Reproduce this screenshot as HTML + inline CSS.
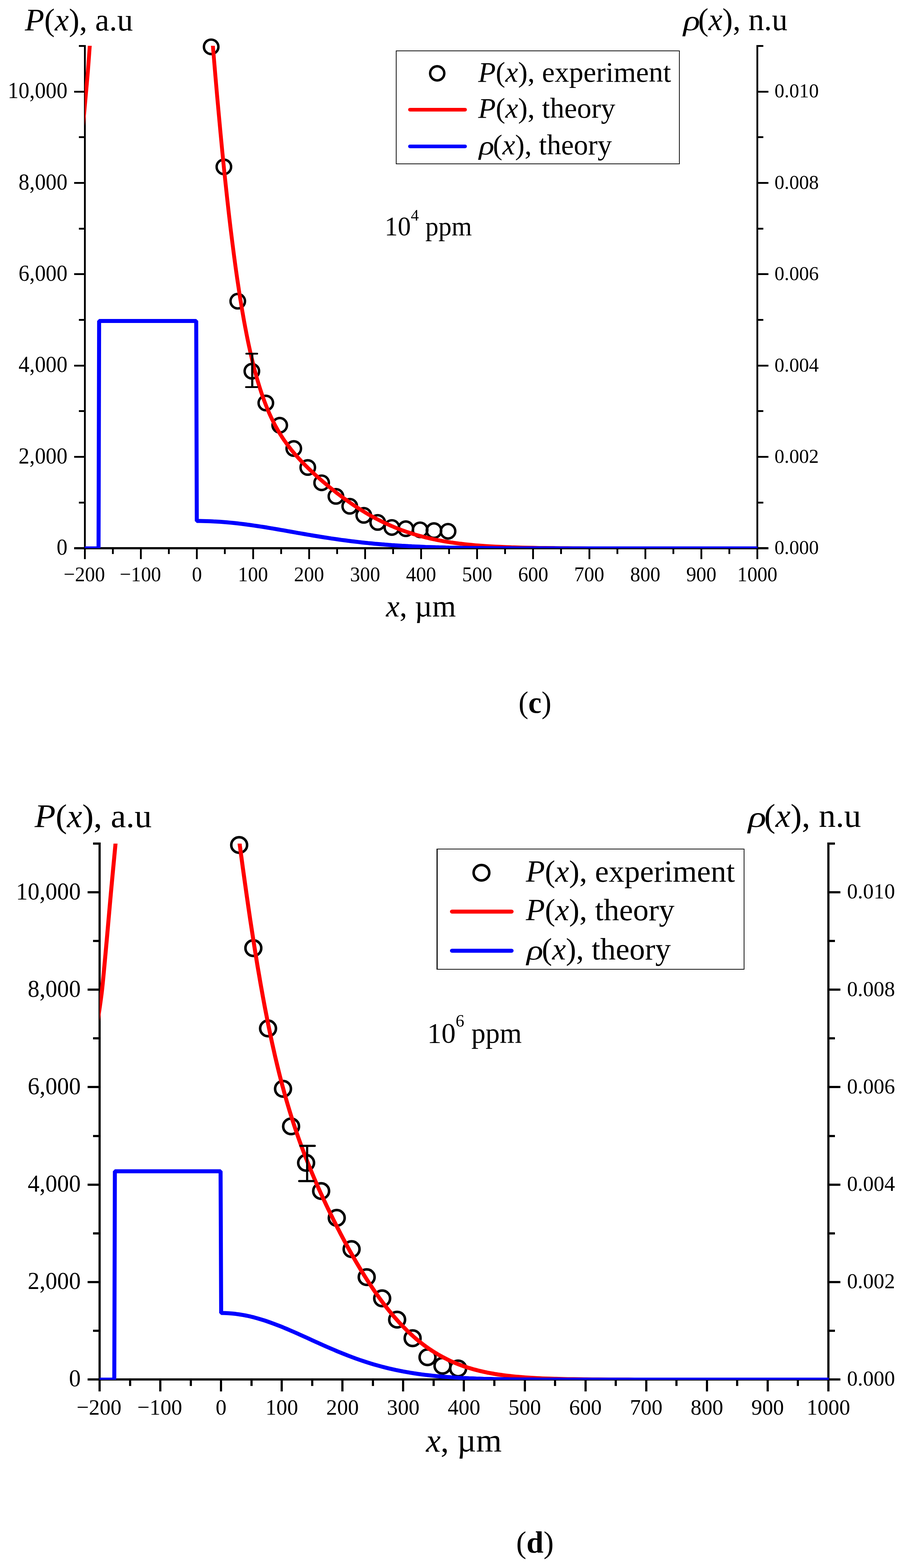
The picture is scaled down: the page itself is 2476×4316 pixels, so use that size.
<!DOCTYPE html>
<html lang="en">
<head>
<meta charset="utf-8">
<title>P(x) and rho(x) profiles, panels (c) and (d)</title>
<style>
html,body{margin:0;padding:0;background:#fff}
body{width:2476px;height:4316px;overflow:hidden}
svg{display:block}
text{white-space:pre}
</style>
</head>
<body>
<svg width="2476" height="4316" viewBox="0 0 2476 4316">
<rect width="2476" height="4316" fill="#fff"/>
<g id="chart-c">
<clipPath id="clip-chart-c"><rect x="233" y="126" width="1851" height="1383"/></clipPath>
<g fill="none" stroke="#000" shape-rendering="crispEdges">
<path d="M233.5 124V1512M2083.5 124V1512" stroke-width="5" vector-effect="non-scaling-stroke"/>
<path d="M233.5 1509H2083.5" stroke-width="6" vector-effect="non-scaling-stroke"/>
<path d="M217.1 1383.32H233.5M2083.5 1383.32H2099.9M203.5 1257.64H233.5M2083.5 1257.64H2113.5M217.1 1131.95H233.5M2083.5 1131.95H2099.9M203.5 1006.27H233.5M2083.5 1006.27H2113.5M217.1 880.59H233.5M2083.5 880.59H2099.9M203.5 754.91H233.5M2083.5 754.91H2113.5M217.1 629.23H233.5M2083.5 629.23H2099.9M203.5 503.55H233.5M2083.5 503.55H2113.5M217.1 377.86H233.5M2083.5 377.86H2099.9M203.5 252.18H233.5M2083.5 252.18H2113.5M217.1 126.5H233.5M2083.5 126.5H2099.9M233.5 1509V1539M310.58 1509V1525.4M387.67 1509V1539M464.75 1509V1525.4M541.83 1509V1539M618.92 1509V1525.4M696 1509V1539M773.08 1509V1525.4M850.17 1509V1539M927.25 1509V1525.4M1004.33 1509V1539M1081.42 1509V1525.4M1158.5 1509V1539M1235.58 1509V1525.4M1312.67 1509V1539M1389.75 1509V1525.4M1466.83 1509V1539M1543.92 1509V1525.4M1621 1509V1539M1698.08 1509V1525.4M1775.17 1509V1539M1852.25 1509V1525.4M1929.33 1509V1539M2006.42 1509V1525.4M2083.5 1509V1539" stroke-width="5" vector-effect="non-scaling-stroke"/>
<path d="M203.5 1509H233.5M2083.5 1509H2113.5" stroke-width="6" vector-effect="non-scaling-stroke"/>
</g>
<g font-family="'Liberation Serif', serif" fill="#000">
<text transform="translate(185.6 1527.2) scale(0.98 1.03)" font-size="61" text-anchor="end">0</text>
<text transform="translate(185.6 1275.84) scale(0.98 1.03)" font-size="61" text-anchor="end">2,000</text>
<text transform="translate(185.6 1024.47) scale(0.98 1.03)" font-size="61" text-anchor="end">4,000</text>
<text transform="translate(185.6 773.11) scale(0.98 1.03)" font-size="61" text-anchor="end">6,000</text>
<text transform="translate(185.6 521.75) scale(0.98 1.03)" font-size="61" text-anchor="end">8,000</text>
<text transform="translate(185.6 270.38) scale(0.98 1.03)" font-size="61" text-anchor="end">10,000</text>
<text transform="translate(2130.8 1525.3) scale(0.984 1.013)" font-size="55">0.000</text>
<text transform="translate(2130.8 1273.94) scale(0.984 1.013)" font-size="55">0.002</text>
<text transform="translate(2130.8 1022.57) scale(0.984 1.013)" font-size="55">0.004</text>
<text transform="translate(2130.8 771.21) scale(0.984 1.013)" font-size="55">0.006</text>
<text transform="translate(2130.8 519.85) scale(0.984 1.013)" font-size="55">0.008</text>
<text transform="translate(2130.8 268.48) scale(0.984 1.013)" font-size="55">0.010</text>
<text transform="translate(232 1600.2) scale(0.975 1.02)" font-size="56.6" text-anchor="middle">−200</text>
<text transform="translate(386.17 1600.2) scale(0.975 1.02)" font-size="56.6" text-anchor="middle">−100</text>
<text transform="translate(541.83 1600.2) scale(0.975 1.02)" font-size="56.6" text-anchor="middle">0</text>
<text transform="translate(696 1600.2) scale(0.975 1.02)" font-size="56.6" text-anchor="middle">100</text>
<text transform="translate(850.17 1600.2) scale(0.975 1.02)" font-size="56.6" text-anchor="middle">200</text>
<text transform="translate(1004.33 1600.2) scale(0.975 1.02)" font-size="56.6" text-anchor="middle">300</text>
<text transform="translate(1158.5 1600.2) scale(0.975 1.02)" font-size="56.6" text-anchor="middle">400</text>
<text transform="translate(1312.67 1600.2) scale(0.975 1.02)" font-size="56.6" text-anchor="middle">500</text>
<text transform="translate(1466.83 1600.2) scale(0.975 1.02)" font-size="56.6" text-anchor="middle">600</text>
<text transform="translate(1621 1600.2) scale(0.975 1.02)" font-size="56.6" text-anchor="middle">700</text>
<text transform="translate(1775.17 1600.2) scale(0.975 1.02)" font-size="56.6" text-anchor="middle">800</text>
<text transform="translate(1929.33 1600.2) scale(0.975 1.02)" font-size="56.6" text-anchor="middle">900</text>
<text transform="translate(2083.5 1600.2) scale(0.975 1.02)" font-size="56.6" text-anchor="middle">1000</text>
<text transform="translate(68.6 84.3) scale(1.012 1)" font-size="86"><tspan font-style="italic">P</tspan>(<tspan font-style="italic">x</tspan>), a.u</text>
<text transform="translate(1879.7 83) scale(1.12 0.91)" font-size="86" font-style="italic">ρ</text>
<text x="1920.5" y="83" font-size="86">(<tspan font-style="italic">x</tspan>), n.u</text>
<text transform="translate(1062 1697.3) scale(0.985 1)" font-size="85"><tspan font-style="italic">x</tspan>, µm</text>
<text transform="translate(1058.2 648.3) scale(0.98 1)" font-size="73.5">10<tspan font-size="44.84" dy="-41" dx="0">4</tspan><tspan dy="41" dx="0"> ppm</tspan></text>
</g>
<g fill="none" stroke="#000" stroke-width="6.7">
<circle cx="580.9" cy="128.9" r="19.9" vector-effect="non-scaling-stroke"/>
<circle cx="615.9" cy="459.3" r="19.9" vector-effect="non-scaling-stroke"/>
<circle cx="654.1" cy="829.1" r="19.9" vector-effect="non-scaling-stroke"/>
<circle cx="692.9" cy="1021.8" r="19.9" vector-effect="non-scaling-stroke"/>
<circle cx="731.3" cy="1109.3" r="19.9" vector-effect="non-scaling-stroke"/>
<circle cx="769.5" cy="1170.6" r="19.9" vector-effect="non-scaling-stroke"/>
<circle cx="808.2" cy="1234.6" r="19.9" vector-effect="non-scaling-stroke"/>
<circle cx="846.7" cy="1286.8" r="19.9" vector-effect="non-scaling-stroke"/>
<circle cx="884.9" cy="1328.9" r="19.9" vector-effect="non-scaling-stroke"/>
<circle cx="924.2" cy="1366.3" r="19.9" vector-effect="non-scaling-stroke"/>
<circle cx="962.2" cy="1393.5" r="19.9" vector-effect="non-scaling-stroke"/>
<circle cx="1000.8" cy="1418.5" r="19.9" vector-effect="non-scaling-stroke"/>
<circle cx="1039.1" cy="1438" r="19.9" vector-effect="non-scaling-stroke"/>
<circle cx="1078.1" cy="1451.9" r="19.9" vector-effect="non-scaling-stroke"/>
<circle cx="1116.4" cy="1455.3" r="19.9" vector-effect="non-scaling-stroke"/>
<circle cx="1155.8" cy="1458.4" r="19.9" vector-effect="non-scaling-stroke"/>
<circle cx="1193.9" cy="1460.5" r="19.9" vector-effect="non-scaling-stroke"/>
<circle cx="1232.6" cy="1462.4" r="19.9" vector-effect="non-scaling-stroke"/>
</g>
<g clip-path="url(#clip-chart-c)" fill="none">
<path d="M225 372C225.7 365.8 227.7 346.1 228.9 335.2C230 324.2 229.9 328.4 232 306.4C234 284.4 238.7 233.1 241.2 203.2C243.7 173.3 245 153.2 246.9 126.9C248.8 100.6 251.8 58.8 252.8 45.2" stroke="#f00" stroke-width="10.6" stroke-linejoin="round" vector-effect="non-scaling-stroke"/>
<path d="M569.6 -76.5C570.4 -66.5 572.7 -36.4 574.2 -16.6C575.8 3.1 577.3 22.7 578.8 42.1C580.4 61.5 581.9 80.7 583.5 99.6C585 118.6 586.5 137.3 588.1 155.8C589.6 174.3 591.2 192.5 592.7 210.5C594.2 228.5 595.8 246.2 597.3 263.7C598.9 281.1 600.4 298.3 602 315.2C603.5 332.1 605 348.8 606.6 365.2C608.1 381.5 609.7 397.6 611.2 413.4C612.8 429.2 614.3 444.7 615.8 459.9C617.4 475.1 618.9 490 620.5 504.6C622 519.2 623.5 533.6 625.1 547.6C626.6 561.6 628.2 575.4 629.7 588.8C631.2 602.2 632.8 615.4 634.3 628.2C635.9 641.1 637.4 653.6 639 665.9C640.5 678.2 642 690.1 643.6 701.8C645.1 713.5 646.7 724.9 648.2 736.1C649.8 747.2 651.3 758.1 652.8 768.6C654.4 779.2 655.9 789.5 657.5 799.6C659 809.6 660.5 819.4 662.1 828.9C663.6 838.4 665.2 847.7 666.7 856.7C668.2 865.7 669.8 874.5 671.3 883C672.9 891.5 674.4 899.8 676 907.8C677.5 915.9 679 923.7 680.6 931.3C682.1 938.9 683.7 946.3 685.2 953.4C686.8 960.6 688.3 967.6 689.8 974.3C691.4 981.1 692.9 987.6 694.5 994C696 1000.4 697.5 1006.5 699.1 1012.5C700.6 1018.5 702.2 1024.3 703.7 1030C705.2 1035.6 706.8 1041.1 708.3 1046.4C709.9 1051.7 711.4 1056.8 713 1061.8C714.5 1066.8 716 1071.6 717.6 1076.3C719.1 1081.1 720.7 1085.6 722.2 1090C723.8 1094.5 725.3 1098.7 726.8 1102.9C728.4 1107.1 729.9 1111.1 731.5 1115.1C733 1119 734.5 1122.8 736.1 1126.5C737.6 1130.2 739.2 1133.8 740.7 1137.3C742.2 1140.8 743.8 1144.2 745.3 1147.5C746.9 1150.8 748.4 1154 750 1157.2C751.5 1160.3 753 1163.3 754.6 1166.3C756.1 1169.3 757.7 1172.2 759.2 1175C760.8 1177.8 762.3 1180.5 763.8 1183.2C765.4 1185.9 766.9 1188.5 768.5 1191.1C770 1193.6 771.5 1196.1 773.1 1198.5C774.6 1201 776.2 1203.3 777.7 1205.7C779.2 1208 780.8 1210.3 782.3 1212.5C783.9 1214.7 785.4 1216.9 787 1219.1C788.5 1221.2 790 1223.3 791.6 1225.4C793.1 1227.4 794.7 1229.5 796.2 1231.5C797.8 1233.4 799.3 1235.4 800.8 1237.3C802.4 1239.2 803.9 1241.1 805.5 1243C807 1244.9 808.5 1246.7 810.1 1248.5C811.6 1250.3 813.2 1252.1 814.7 1253.8C816.2 1255.6 817.8 1257.3 819.3 1259C820.9 1260.8 822.4 1262.4 824 1264.1C825.5 1265.8 827 1267.4 828.6 1269.1C830.1 1270.7 831.7 1272.3 833.2 1273.9C834.8 1275.5 836.3 1277.1 837.8 1278.6C839.4 1280.2 840.9 1281.7 842.5 1283.3C844 1284.8 845.5 1286.3 847.1 1287.8C848.6 1289.4 849.4 1290.1 851.7 1292.3C854 1294.5 857.9 1298.2 861 1301.1C864 1304 867.1 1306.8 870.2 1309.6C873.3 1312.4 876.4 1315.1 879.5 1317.8C882.5 1320.6 885.6 1323.2 888.7 1325.9C891.8 1328.5 894.9 1331.2 898 1333.7C901 1336.3 904.1 1338.9 907.2 1341.4C910.3 1343.9 913.4 1346.4 916.5 1348.9C919.5 1351.3 922.6 1353.8 925.7 1356.2C928.8 1358.6 931.9 1360.9 935 1363.3C938 1365.6 941.1 1367.9 944.2 1370.2C947.3 1372.4 950.4 1374.7 953.5 1376.9C956.5 1379.1 959.6 1381.3 962.7 1383.4C965.8 1385.6 968.9 1387.7 972 1389.8C975 1391.9 978.1 1393.9 981.2 1395.9C984.3 1397.9 987.4 1399.9 990.5 1401.9C993.5 1403.8 996.6 1405.7 999.7 1407.6C1002.8 1409.5 1005.9 1411.3 1009 1413.2C1012 1415 1015.1 1416.8 1018.2 1418.5C1021.3 1420.3 1024.4 1422 1027.5 1423.7C1030.5 1425.3 1033.6 1427 1036.7 1428.6C1039.8 1430.2 1042.9 1431.8 1046 1433.3C1049 1434.9 1052.1 1436.4 1055.2 1437.9C1058.3 1439.4 1061.4 1440.8 1064.5 1442.2C1067.5 1443.6 1070.6 1445 1073.7 1446.4C1076.8 1447.7 1079.9 1449.1 1083 1450.3C1086 1451.6 1089.1 1452.9 1092.2 1454.1C1095.3 1455.3 1098.4 1456.5 1101.5 1457.7C1104.5 1458.9 1107.6 1460 1110.7 1461.1C1113.8 1462.2 1116.9 1463.3 1120 1464.4C1123 1465.4 1126.1 1466.4 1129.2 1467.4C1132.3 1468.4 1135.4 1469.4 1138.5 1470.3C1141.5 1471.3 1144.6 1472.2 1147.7 1473.1C1150.8 1474 1153.9 1474.8 1157 1475.6C1160 1476.5 1163.1 1477.3 1166.2 1478.1C1169.3 1478.9 1172.4 1479.6 1175.5 1480.4C1178.5 1481.1 1181.6 1481.8 1184.7 1482.5C1187.8 1483.2 1190.9 1483.9 1194 1484.6C1197 1485.2 1200.1 1485.8 1203.2 1486.5C1206.3 1487.1 1209.4 1487.7 1212.5 1488.2C1215.5 1488.8 1218.6 1489.4 1221.7 1489.9C1224.8 1490.4 1227.9 1490.9 1231 1491.4C1234 1491.9 1237.1 1492.4 1240.2 1492.9C1243.3 1493.3 1246.4 1493.8 1249.5 1494.2C1252.5 1494.7 1255.6 1495.1 1258.7 1495.5C1261.8 1495.9 1264.9 1496.3 1268 1496.6C1271 1497 1274.1 1497.4 1277.2 1497.7C1280.3 1498.1 1283.4 1498.4 1286.5 1498.7C1289.5 1499 1292.6 1499.3 1295.7 1499.6C1298.8 1499.9 1301.9 1500.2 1305 1500.5C1308 1500.8 1307.5 1500.8 1314.2 1501.3C1320.9 1501.8 1334.8 1502.8 1345 1503.5C1355.3 1504.1 1365.6 1504.7 1375.9 1505.1C1386.2 1505.6 1396.4 1506 1406.7 1506.4C1417 1506.7 1427.3 1507 1437.5 1507.3C1447.8 1507.5 1458.1 1507.7 1468.4 1507.9C1478.7 1508.1 1488.9 1508.3 1499.2 1508.4C1509.5 1508.5 1519.8 1508.6 1530 1508.7C1540.3 1508.8 1550.6 1508.9 1560.9 1508.9C1571.2 1509 1581.4 1509.1 1591.7 1509.1C1602 1509.1 1612.3 1509.2 1622.5 1509.2C1632.8 1509.2 1643.1 1509.3 1653.4 1509.3C1663.7 1509.3 1673.9 1509.3 1684.2 1509.3C1694.5 1509.3 1704.8 1509.3 1715 1509.3C1725.3 1509.4 1735.6 1509.4 1745.9 1509.4C1756.2 1509.4 1766.4 1509.4 1776.7 1509.4C1787 1509.4 1797.3 1509.4 1807.5 1509.4C1817.8 1509.4 1828.1 1509.4 1838.4 1509.4C1848.7 1509.4 1858.9 1509.4 1869.2 1509.4C1879.5 1509.4 1889.8 1509.4 1900 1509.4C1910.3 1509.4 1920.6 1509.4 1930.9 1509.4C1941.2 1509.4 1951.4 1509.4 1961.7 1509.4C1972 1509.4 1982.3 1509.4 1992.5 1509.4C2002.8 1509.4 2013.1 1509.4 2023.4 1509.4C2033.7 1509.4 2043.9 1509.4 2054.2 1509.4C2064.5 1509.4 2079.9 1509.4 2085 1509.4" stroke="#f00" stroke-width="10.6" stroke-linejoin="round" vector-effect="non-scaling-stroke"/>
<path d="M218.1 1509.4L271.1 1509.4L272.7 883.5L539.8 883.5L541.4 1434L550.6 1434L559.9 1434.2L569.1 1434.4L578.4 1434.7L587.6 1435.2L596.9 1435.7L606.1 1436.3L615.4 1437L624.6 1437.7L633.9 1438.6L643.1 1439.5L652.4 1440.5L661.6 1441.6L670.9 1442.8L680.1 1444L689.4 1445.2L698.6 1446.6L707.9 1448L717.1 1449.4L726.4 1450.8L735.6 1452.3L744.9 1453.9L754.1 1455.4L763.4 1457L772.6 1458.6L781.9 1460.2L791.1 1461.9L800.4 1463.5L809.6 1465.1L818.9 1466.8L828.1 1468.4L837.4 1470L846.6 1471.6L855.9 1473.2L865.1 1474.7L874.4 1476.2L883.6 1477.7L892.9 1479.2L902.1 1480.6L911.4 1482.1L920.6 1483.4L929.9 1484.8L939.1 1486.1L948.4 1487.3L957.6 1488.5L966.9 1489.7L976.1 1490.8L985.4 1491.9L994.6 1493L1003.9 1494L1013.1 1494.9L1022.4 1495.8L1031.6 1496.7L1040.9 1497.5L1050.1 1498.3L1059.4 1499.1L1068.6 1499.8L1077.9 1500.5L1087.1 1501.1L1096.4 1501.7L1105.6 1502.3L1114.9 1502.8L1124.1 1503.3L1133.4 1503.8L1142.6 1504.2L1151.9 1504.6L1161.1 1505L1170.4 1505.4L1179.6 1505.7L1188.9 1506L1198.1 1506.3L1207.4 1506.6L1216.6 1506.8L1225.9 1507.1L1235.1 1507.3L1244.4 1507.5L1253.6 1507.6L1262.9 1507.8L1272.1 1508L1281.4 1508.1L1290.6 1508.2L1299.9 1508.3L1309.1 1508.4L1318.4 1508.5L1327.6 1508.6L1336.9 1508.7L1346.1 1508.8L1355.4 1508.8L1364.6 1508.9L1373.9 1509L1383.1 1509L1392.4 1509.1L1401.6 1509.1L1410.9 1509.1L1420.1 1509.2L1429.4 1509.2L1438.6 1509.2L1447.9 1509.2L1457.1 1509.3L1466.4 1509.3L1475.6 1509.3L1484.9 1509.3L1494.1 1509.3L1503.4 1509.3L1512.6 1509.3L1521.9 1509.3L1531.1 1509.3L1540.4 1509.4L1549.6 1509.4L1558.9 1509.4L1568.1 1509.4L1577.4 1509.4L1586.6 1509.4L1595.9 1509.4L1605.1 1509.4L1614.4 1509.4L1623.6 1509.4L1632.9 1509.4L1642.1 1509.4L1651.4 1509.4L1660.6 1509.4L1669.9 1509.4L1679.1 1509.4L1688.4 1509.4L1697.6 1509.4L1706.9 1509.4L1716.1 1509.4L1725.4 1509.4L1734.6 1509.4L1743.9 1509.4L1753.1 1509.4L1762.4 1509.4L1771.6 1509.4L1780.9 1509.4L1790.1 1509.4L1799.4 1509.4L1808.6 1509.4L1817.9 1509.4L1827.1 1509.4L1836.4 1509.4L1845.6 1509.4L1854.9 1509.4L1864.1 1509.4L1873.4 1509.4L1882.6 1509.4L1891.9 1509.4L1901.1 1509.4L1910.4 1509.4L1919.6 1509.4L1928.9 1509.4L1938.1 1509.4L1947.4 1509.4L1956.6 1509.4L1965.9 1509.4L1975.1 1509.4L1984.4 1509.4L1993.6 1509.4L2002.9 1509.4L2012.1 1509.4L2021.4 1509.4L2030.6 1509.4L2039.9 1509.4L2049.1 1509.4L2058.4 1509.4L2067.6 1509.4L2076.9 1509.4L2086.1 1509.4L2095.4 1509.4" stroke="#00f" stroke-width="11" stroke-linejoin="bevel" vector-effect="non-scaling-stroke"/>
</g>
<g fill="none" stroke="#000">
<path d="M694 973.6V1065.5" stroke-width="6" vector-effect="non-scaling-stroke"/>
<path d="M677.5 973.6H707.6M676.7 1065.5H707.4" stroke-width="5" stroke-linecap="round" vector-effect="non-scaling-stroke"/>
</g>
<rect x="1090" y="140" width="779" height="311" fill="#fff" stroke="#000" stroke-width="2" shape-rendering="crispEdges" vector-effect="non-scaling-stroke"/>
<circle cx="1202.8" cy="201.8" r="19.5" fill="none" stroke="#000" stroke-width="6.7" vector-effect="non-scaling-stroke"/>
<path d="M1127.9 301.9H1279.4" stroke="#f00" stroke-width="10" stroke-linecap="round" vector-effect="non-scaling-stroke"/>
<path d="M1127.9 402.9H1279.4" stroke="#00f" stroke-width="10" stroke-linecap="round" vector-effect="non-scaling-stroke"/>
<g font-family="'Liberation Serif', serif" fill="#000">
<text transform="translate(1315.6 224.5) scale(1.005 1)" font-size="78.6"><tspan font-style="italic">P</tspan>(<tspan font-style="italic">x</tspan>), experiment</text>
<text transform="translate(1315.6 324.1) scale(1.005 1)" font-size="78.6"><tspan font-style="italic">P</tspan>(<tspan font-style="italic">x</tspan>), theory</text>
<text transform="translate(1317.4 425.2) scale(1.12 0.91)" font-size="78.6" font-style="italic">ρ</text>
<text x="1356" y="425.2" font-size="78.6">(<tspan font-style="italic">x</tspan>), theory</text>
</g>
</g>
<g id="chart-d" transform="translate(20.936 2187.036) scale(1.083784 1.066908)">
<clipPath id="clip-chart-d"><rect x="233.5" y="126.5" width="1850.92" height="1383.44"/></clipPath>
<g fill="none" stroke="#000" shape-rendering="crispEdges">
<path d="M233.5 123.69V1511.81M2083.5 123.69V1511.81" stroke-width="6" vector-effect="non-scaling-stroke"/>
<path d="M233.5 1509H2083.5" stroke-width="6" vector-effect="non-scaling-stroke"/>
<path d="M217.1 1383.32H233.5M2083.5 1383.32H2099.9M203.5 1257.64H233.5M2083.5 1257.64H2113.5M217.1 1131.95H233.5M2083.5 1131.95H2099.9M203.5 1006.27H233.5M2083.5 1006.27H2113.5M217.1 880.59H233.5M2083.5 880.59H2099.9M203.5 754.91H233.5M2083.5 754.91H2113.5M217.1 629.23H233.5M2083.5 629.23H2099.9M203.5 503.55H233.5M2083.5 503.55H2113.5M217.1 377.86H233.5M2083.5 377.86H2099.9M203.5 252.18H233.5M2083.5 252.18H2113.5M217.1 126.5H233.5M2083.5 126.5H2099.9M233.5 1509V1539.47M310.58 1509V1525.66M387.67 1509V1539.47M464.75 1509V1525.66M541.83 1509V1539.47M618.92 1509V1525.66M696 1509V1539.47M773.08 1509V1525.66M850.17 1509V1539.47M927.25 1509V1525.66M1004.33 1509V1539.47M1081.42 1509V1525.66M1158.5 1509V1539.47M1235.58 1509V1525.66M1312.67 1509V1539.47M1389.75 1509V1525.66M1466.83 1509V1539.47M1543.92 1509V1525.66M1621 1509V1539.47M1698.08 1509V1525.66M1775.17 1509V1539.47M1852.25 1509V1525.66M1929.33 1509V1539.47M2006.42 1509V1525.66M2083.5 1509V1539.47" stroke-width="6" vector-effect="non-scaling-stroke"/>
<path d="M203.5 1509H233.5M2083.5 1509H2113.5" stroke-width="6" vector-effect="non-scaling-stroke"/>
</g>
<g font-family="'Liberation Serif', serif" fill="#000">
<text transform="translate(185.6 1527.2) scale(0.98 1.03)" font-size="61" text-anchor="end">0</text>
<text transform="translate(185.6 1275.84) scale(0.98 1.03)" font-size="61" text-anchor="end">2,000</text>
<text transform="translate(185.6 1024.47) scale(0.98 1.03)" font-size="61" text-anchor="end">4,000</text>
<text transform="translate(185.6 773.11) scale(0.98 1.03)" font-size="61" text-anchor="end">6,000</text>
<text transform="translate(185.6 521.75) scale(0.98 1.03)" font-size="61" text-anchor="end">8,000</text>
<text transform="translate(185.6 270.38) scale(0.98 1.03)" font-size="61" text-anchor="end">10,000</text>
<text transform="translate(2130.8 1525.3) scale(0.984 1.013)" font-size="55">0.000</text>
<text transform="translate(2130.8 1273.94) scale(0.984 1.013)" font-size="55">0.002</text>
<text transform="translate(2130.8 1022.57) scale(0.984 1.013)" font-size="55">0.004</text>
<text transform="translate(2130.8 771.21) scale(0.984 1.013)" font-size="55">0.006</text>
<text transform="translate(2130.8 519.85) scale(0.984 1.013)" font-size="55">0.008</text>
<text transform="translate(2130.8 268.48) scale(0.984 1.013)" font-size="55">0.010</text>
<text transform="translate(232 1600.2) scale(0.975 1.02)" font-size="56.6" text-anchor="middle">−200</text>
<text transform="translate(386.17 1600.2) scale(0.975 1.02)" font-size="56.6" text-anchor="middle">−100</text>
<text transform="translate(541.83 1600.2) scale(0.975 1.02)" font-size="56.6" text-anchor="middle">0</text>
<text transform="translate(696 1600.2) scale(0.975 1.02)" font-size="56.6" text-anchor="middle">100</text>
<text transform="translate(850.17 1600.2) scale(0.975 1.02)" font-size="56.6" text-anchor="middle">200</text>
<text transform="translate(1004.33 1600.2) scale(0.975 1.02)" font-size="56.6" text-anchor="middle">300</text>
<text transform="translate(1158.5 1600.2) scale(0.975 1.02)" font-size="56.6" text-anchor="middle">400</text>
<text transform="translate(1312.67 1600.2) scale(0.975 1.02)" font-size="56.6" text-anchor="middle">500</text>
<text transform="translate(1466.83 1600.2) scale(0.975 1.02)" font-size="56.6" text-anchor="middle">600</text>
<text transform="translate(1621 1600.2) scale(0.975 1.02)" font-size="56.6" text-anchor="middle">700</text>
<text transform="translate(1775.17 1600.2) scale(0.975 1.02)" font-size="56.6" text-anchor="middle">800</text>
<text transform="translate(1929.33 1600.2) scale(0.975 1.02)" font-size="56.6" text-anchor="middle">900</text>
<text transform="translate(2083.5 1600.2) scale(0.975 1.02)" font-size="56.6" text-anchor="middle">1000</text>
<text transform="translate(68.6 84.3) scale(1.012 1)" font-size="86"><tspan font-style="italic">P</tspan>(<tspan font-style="italic">x</tspan>), a.u</text>
<text transform="translate(1879.7 83) scale(1.12 0.91)" font-size="86" font-style="italic">ρ</text>
<text x="1920.5" y="83" font-size="86">(<tspan font-style="italic">x</tspan>), n.u</text>
<text transform="translate(1062 1695.3) scale(0.985 1)" font-size="85"><tspan font-style="italic">x</tspan>, µm</text>
<text transform="translate(1065.2 640.3) scale(0.98 1)" font-size="73.5">10<tspan font-size="44.84" dy="-41" dx="0">6</tspan><tspan dy="41" dx="0"> ppm</tspan></text>
</g>
<g fill="none" stroke="#000" stroke-width="7">
<circle cx="587.8" cy="130.2" r="20.1" vector-effect="non-scaling-stroke"/>
<circle cx="623.8" cy="396.2" r="20.1" vector-effect="non-scaling-stroke"/>
<circle cx="661.1" cy="603.4" r="20.1" vector-effect="non-scaling-stroke"/>
<circle cx="699.1" cy="759.2" r="20.1" vector-effect="non-scaling-stroke"/>
<circle cx="719.6" cy="856.1" r="20.1" vector-effect="non-scaling-stroke"/>
<circle cx="757.7" cy="950.2" r="20.1" vector-effect="non-scaling-stroke"/>
<circle cx="795.9" cy="1022.9" r="20.1" vector-effect="non-scaling-stroke"/>
<circle cx="835.5" cy="1092.2" r="20.1" vector-effect="non-scaling-stroke"/>
<circle cx="873.2" cy="1172.8" r="20.1" vector-effect="non-scaling-stroke"/>
<circle cx="911.5" cy="1245" r="20.1" vector-effect="non-scaling-stroke"/>
<circle cx="950.8" cy="1299.8" r="20.1" vector-effect="non-scaling-stroke"/>
<circle cx="988.8" cy="1354.7" r="20.1" vector-effect="non-scaling-stroke"/>
<circle cx="1028.1" cy="1402.6" r="20.1" vector-effect="non-scaling-stroke"/>
<circle cx="1065.9" cy="1451.7" r="20.1" vector-effect="non-scaling-stroke"/>
<circle cx="1103.9" cy="1473.7" r="20.1" vector-effect="non-scaling-stroke"/>
<circle cx="1143.6" cy="1480.6" r="20.1" vector-effect="non-scaling-stroke"/>
</g>
<g clip-path="url(#clip-chart-d)" fill="none">
<path d="M226.6 598.3C226.8 596.3 226.1 602.3 228.3 586.6C230.4 570.9 235.8 538.7 239.7 504C243.5 469.3 247.6 420.2 251.4 378.3C255.2 336.4 258.6 294.5 262.3 252.7C266.1 210.8 270.7 161.3 273.9 127C277.1 92.6 280.1 59.9 281.3 46.5" stroke="#f00" stroke-width="11" stroke-linejoin="round" vector-effect="non-scaling-stroke"/>
<path d="M565 -62.4C565.7 -56.2 568 -37.5 569.6 -25.2C571.1 -12.8 572.7 -0.4 574.2 11.8C575.8 24.1 577.3 36.4 578.8 48.5C580.4 60.7 581.9 72.8 583.5 84.8C585 96.8 586.5 108.7 588.1 120.6C589.6 132.4 591.2 144.2 592.7 155.9C594.2 167.5 595.8 179.1 597.3 190.5C598.9 202 600.4 213.3 602 224.6C603.5 235.8 605 246.9 606.6 257.9C608.1 268.9 609.7 279.8 611.2 290.6C612.8 301.3 614.3 311.9 615.8 322.4C617.4 332.9 618.9 343.3 620.5 353.5C622 363.7 623.5 373.8 625.1 383.8C626.6 393.7 628.2 403.6 629.7 413.2C631.2 422.9 632.8 432.5 634.3 441.9C635.9 451.2 637.4 460.5 639 469.6C640.5 478.7 642 487.7 643.6 496.5C645.1 505.4 646.7 514 648.2 522.6C649.8 531.1 651.3 539.5 652.8 547.8C654.4 556.1 655.9 564.2 657.5 572.2C659 580.2 660.5 588 662.1 595.7C663.6 603.4 665.2 611 666.7 618.5C668.2 625.9 669.8 633.2 671.3 640.4C672.9 647.6 674.4 654.7 676 661.6C677.5 668.6 679 675.4 680.6 682.1C682.1 688.8 683.7 695.3 685.2 701.8C686.8 708.3 688.3 714.6 689.8 720.8C691.4 727.1 692.9 733.2 694.5 739.2C696 745.2 697.5 751.1 699.1 756.9C700.6 762.7 702.2 768.4 703.7 774C705.2 779.7 706.8 785.2 708.3 790.6C709.9 796 711.4 801.4 713 806.6C714.5 811.8 716 817 717.6 822.1C719.1 827.2 720.7 832.2 722.2 837.1C723.8 842 725.3 846.8 726.8 851.6C728.4 856.4 729.9 861.1 731.5 865.7C733 870.4 734.5 874.9 736.1 879.4C737.6 883.9 739.2 888.4 740.7 892.8C742.2 897.2 743.8 901.5 745.3 905.8C746.9 910 748.4 914.2 750 918.4C751.5 922.6 753 926.7 754.6 930.7C756.1 934.8 757.7 938.8 759.2 942.8C760.8 946.8 762.3 950.7 763.8 954.6C765.4 958.5 766.9 962.3 768.5 966.2C770 970 771.5 973.7 773.1 977.5C774.6 981.2 776.2 984.9 777.7 988.6C779.2 992.3 780.8 995.9 782.3 999.5C783.9 1003.1 785.4 1006.7 787 1010.2C788.5 1013.8 790 1017.3 791.6 1020.8C793.1 1024.3 794.7 1027.7 796.2 1031.2C797.8 1034.6 799.3 1038 800.8 1041.4C802.4 1044.8 803.9 1048.2 805.5 1051.5C807 1054.8 808.5 1058.2 810.1 1061.5C811.6 1064.8 813.2 1068 814.7 1071.3C816.2 1074.5 817.8 1077.8 819.3 1081C820.9 1084.2 822.4 1087.4 824 1090.5C825.5 1093.7 827 1096.9 828.6 1100C830.1 1103.1 831.7 1106.2 833.2 1109.3C834.8 1112.4 836.3 1115.5 837.8 1118.6C839.4 1121.6 840.9 1124.7 842.5 1127.7C844 1130.7 845.5 1133.7 847.1 1136.7C848.6 1139.7 849.4 1141.2 851.7 1145.6C854 1150 857.9 1157.3 861 1163C864 1168.8 867.1 1174.4 870.2 1180C873.3 1185.6 876.4 1191.2 879.5 1196.6C882.5 1202.1 885.6 1207.4 888.7 1212.7C891.8 1218 894.9 1223.3 898 1228.4C901 1233.6 904.1 1238.6 907.2 1243.6C910.3 1248.6 913.4 1253.5 916.5 1258.3C919.5 1263.1 922.6 1267.9 925.7 1272.5C928.8 1277.2 931.9 1281.8 935 1286.3C938 1290.8 941.1 1295.2 944.2 1299.5C947.3 1303.8 950.4 1308.1 953.5 1312.2C956.5 1316.4 959.6 1320.4 962.7 1324.4C965.8 1328.4 968.9 1332.3 972 1336.1C975 1339.9 978.1 1343.7 981.2 1347.3C984.3 1351 987.4 1354.5 990.5 1358C993.5 1361.5 996.6 1364.9 999.7 1368.2C1002.8 1371.5 1005.9 1374.7 1009 1377.8C1012 1381 1015.1 1384.1 1018.2 1387C1021.3 1390 1024.4 1392.9 1027.5 1395.7C1030.5 1398.6 1033.6 1401.3 1036.7 1404C1039.8 1406.7 1042.9 1409.2 1046 1411.8C1049 1414.3 1052.1 1416.7 1055.2 1419.1C1058.3 1421.5 1061.4 1423.8 1064.5 1426C1067.5 1428.2 1070.6 1430.4 1073.7 1432.5C1076.8 1434.6 1079.9 1436.6 1083 1438.6C1086 1440.5 1089.1 1442.4 1092.2 1444.3C1095.3 1446.1 1098.4 1447.9 1101.5 1449.6C1104.5 1451.3 1107.6 1452.9 1110.7 1454.5C1113.8 1456.1 1116.9 1457.7 1120 1459.2C1123 1460.7 1126.1 1462.1 1129.2 1463.5C1132.3 1464.9 1135.4 1466.2 1138.5 1467.5C1141.5 1468.7 1144.6 1470 1147.7 1471.2C1150.8 1472.4 1153.9 1473.5 1157 1474.6C1160 1475.7 1163.1 1476.7 1166.2 1477.7C1169.3 1478.8 1172.4 1479.7 1175.5 1480.7C1178.5 1481.6 1181.6 1482.5 1184.7 1483.4C1187.8 1484.2 1190.9 1485 1194 1485.8C1197 1486.6 1200.1 1487.4 1203.2 1488.1C1206.3 1488.8 1209.4 1489.5 1212.5 1490.2C1215.5 1490.8 1218.6 1491.5 1221.7 1492.1C1224.8 1492.7 1227.9 1493.2 1231 1493.8C1234 1494.3 1237.1 1494.9 1240.2 1495.4C1243.3 1495.9 1246.4 1496.4 1249.5 1496.8C1252.5 1497.3 1255.6 1497.7 1258.7 1498.1C1261.8 1498.5 1264.9 1498.9 1268 1499.3C1271 1499.7 1274.1 1500 1277.2 1500.4C1280.3 1500.7 1283.4 1501.1 1286.5 1501.4C1289.5 1501.7 1292.6 1502 1295.7 1502.2C1298.8 1502.5 1301.9 1502.8 1305 1503C1308 1503.3 1307.5 1503.3 1314.2 1503.8C1320.9 1504.2 1334.8 1505.1 1345 1505.6C1355.3 1506.2 1365.6 1506.6 1375.9 1507C1386.2 1507.3 1396.4 1507.6 1406.7 1507.8C1417 1508.1 1427.3 1508.3 1437.5 1508.4C1447.8 1508.6 1458.1 1508.7 1468.4 1508.8C1478.7 1508.9 1488.9 1509 1499.2 1509.1C1509.5 1509.1 1519.8 1509.2 1530 1509.2C1540.3 1509.3 1550.6 1509.3 1560.9 1509.3C1571.2 1509.3 1581.4 1509.4 1591.7 1509.4C1602 1509.4 1612.3 1509.4 1622.5 1509.4C1632.8 1509.4 1643.1 1509.4 1653.4 1509.4C1663.7 1509.4 1673.9 1509.4 1684.2 1509.5C1694.5 1509.5 1704.8 1509.5 1715 1509.5C1725.3 1509.5 1735.6 1509.5 1745.9 1509.5C1756.2 1509.5 1766.4 1509.5 1776.7 1509.5C1787 1509.5 1797.3 1509.5 1807.5 1509.5C1817.8 1509.5 1828.1 1509.5 1838.4 1509.5C1848.7 1509.5 1858.9 1509.5 1869.2 1509.5C1879.5 1509.5 1889.8 1509.5 1900 1509.5C1910.3 1509.5 1920.6 1509.5 1930.9 1509.5C1941.2 1509.5 1951.4 1509.5 1961.7 1509.5C1972 1509.5 1982.3 1509.5 1992.5 1509.5C2002.8 1509.5 2013.1 1509.5 2023.4 1509.5C2033.7 1509.5 2043.9 1509.5 2054.2 1509.5C2064.5 1509.5 2079.9 1509.5 2085 1509.5" stroke="#f00" stroke-width="11" stroke-linejoin="round" vector-effect="non-scaling-stroke"/>
<path d="M218.1 1509.5L270.8 1509.5L272.3 971.9L540.6 971.9L542.1 1337.5L551.4 1337.7L560.6 1338.1L569.9 1338.9L579.1 1339.9L588.4 1341.2L597.6 1342.7L606.9 1344.5L616.1 1346.6L625.4 1348.9L634.6 1351.5L643.9 1354.3L653.1 1357.2L662.4 1360.4L671.6 1363.8L680.9 1367.3L690.1 1370.9L699.4 1374.7L708.6 1378.6L717.9 1382.7L727.1 1386.7L736.4 1390.9L745.6 1395.1L754.9 1399.4L764.1 1403.6L773.4 1407.9L782.6 1412.2L791.9 1416.4L801.1 1420.6L810.4 1424.8L819.6 1428.9L828.9 1432.9L838.1 1436.9L847.4 1440.7L856.6 1444.5L865.9 1448.2L875.1 1451.7L884.4 1455.2L893.6 1458.5L902.9 1461.7L912.1 1464.7L921.4 1467.7L930.6 1470.5L939.9 1473.2L949.1 1475.7L958.4 1478.2L967.6 1480.5L976.9 1482.7L986.1 1484.7L995.4 1486.7L1004.6 1488.5L1013.9 1490.2L1023.1 1491.8L1032.4 1493.3L1041.6 1494.7L1050.9 1496L1060.1 1497.2L1069.4 1498.3L1078.6 1499.3L1087.9 1500.3L1097.1 1501.1L1106.4 1501.9L1115.6 1502.7L1124.9 1503.4L1134.1 1504L1143.4 1504.5L1152.6 1505.1L1161.9 1505.5L1171.1 1505.9L1180.4 1506.3L1189.6 1506.7L1198.9 1507L1208.1 1507.3L1217.4 1507.5L1226.6 1507.7L1235.9 1508L1245.1 1508.1L1254.4 1508.3L1263.6 1508.4L1272.9 1508.6L1282.1 1508.7L1291.4 1508.8L1300.6 1508.9L1309.9 1508.9L1319.1 1509L1328.4 1509.1L1337.6 1509.1L1346.9 1509.2L1356.1 1509.2L1365.4 1509.2L1374.6 1509.3L1383.9 1509.3L1393.1 1509.3L1402.4 1509.3L1411.6 1509.4L1420.9 1509.4L1430.1 1509.4L1439.4 1509.4L1448.6 1509.4L1457.9 1509.4L1467.1 1509.4L1476.4 1509.4L1485.6 1509.4L1494.9 1509.4L1504.1 1509.4L1513.4 1509.5L1522.6 1509.5L1531.9 1509.5L1541.1 1509.5L1550.4 1509.5L1559.6 1509.5L1568.9 1509.5L1578.1 1509.5L1587.4 1509.5L1596.6 1509.5L1605.9 1509.5L1615.1 1509.5L1624.4 1509.5L1633.6 1509.5L1642.9 1509.5L1652.1 1509.5L1661.4 1509.5L1670.6 1509.5L1679.9 1509.5L1689.1 1509.5L1698.4 1509.5L1707.6 1509.5L1716.9 1509.5L1726.1 1509.5L1735.4 1509.5L1744.6 1509.5L1753.9 1509.5L1763.1 1509.5L1772.4 1509.5L1781.6 1509.5L1790.9 1509.5L1800.1 1509.5L1809.4 1509.5L1818.6 1509.5L1827.9 1509.5L1837.1 1509.5L1846.4 1509.5L1855.6 1509.5L1864.9 1509.5L1874.1 1509.5L1883.4 1509.5L1892.6 1509.5L1901.9 1509.5L1911.1 1509.5L1920.4 1509.5L1929.6 1509.5L1938.9 1509.5L1948.1 1509.5L1957.4 1509.5L1966.6 1509.5L1975.9 1509.5L1985.1 1509.5L1994.4 1509.5L2003.6 1509.5L2012.9 1509.5L2022.1 1509.5L2031.4 1509.5L2040.6 1509.5L2049.9 1509.5L2059.1 1509.5L2068.4 1509.5L2077.6 1509.5L2086.9 1509.5L2096.1 1509.5" stroke="#00f" stroke-width="11" stroke-linejoin="bevel" vector-effect="non-scaling-stroke"/>
</g>
<g fill="none" stroke="#000">
<path d="M760.36 906.42V997.33" stroke-width="6" vector-effect="non-scaling-stroke"/>
<path d="M743.2 906.42H779.64M740.15 997.33H776.6" stroke-width="6" stroke-linecap="round" vector-effect="non-scaling-stroke"/>
</g>
<rect x="1089.76" y="140.56" width="779.68" height="310.24" fill="#fff" stroke="#000" stroke-width="2" shape-rendering="crispEdges" vector-effect="non-scaling-stroke"/>
<path d="M1090.68 140.56V450.8" stroke="#000" stroke-width="2" shape-rendering="crispEdges" vector-effect="non-scaling-stroke"/>
<circle cx="1202.8" cy="201.8" r="19.9" fill="none" stroke="#000" stroke-width="7" vector-effect="non-scaling-stroke"/>
<path d="M1127.97 301.9H1279.33" stroke="#f00" stroke-width="11" stroke-linecap="round" vector-effect="non-scaling-stroke"/>
<path d="M1127.97 402.9H1279.33" stroke="#00f" stroke-width="11" stroke-linecap="round" vector-effect="non-scaling-stroke"/>
<g font-family="'Liberation Serif', serif" fill="#000">
<text transform="translate(1315.6 224.5) scale(1.005 1)" font-size="78.6"><tspan font-style="italic">P</tspan>(<tspan font-style="italic">x</tspan>), experiment</text>
<text transform="translate(1315.6 324.1) scale(1.005 1)" font-size="78.6"><tspan font-style="italic">P</tspan>(<tspan font-style="italic">x</tspan>), theory</text>
<text transform="translate(1317.4 425.2) scale(1.12 0.91)" font-size="78.6" font-style="italic">ρ</text>
<text x="1356" y="425.2" font-size="78.6">(<tspan font-style="italic">x</tspan>), theory</text>
</g>
</g>
<text transform="translate(1471.7 1961.7) scale(0.965 1)" font-family="'Liberation Serif', serif" font-size="84.5" text-anchor="middle" fill="#000">(<tspan font-weight="bold">c</tspan>)</text>
<text transform="translate(1471.7 4274.3) scale(1.0 1)" font-family="'Liberation Serif', serif" font-size="84.5" text-anchor="middle" fill="#000">(<tspan font-weight="bold">d</tspan>)</text>
</svg>
</body>
</html>
